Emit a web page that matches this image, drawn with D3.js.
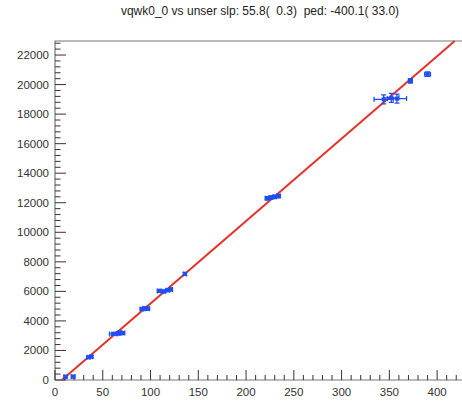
<!DOCTYPE html>
<html>
<head>
<meta charset="utf-8">
<script src="https://cdn.jsdelivr.net/npm/d3@7"></script>
<style>
  body { margin: 0; background: #fff; }
  text { font-family: "Liberation Sans", Arial, sans-serif; }
</style>
</head>
<body>
<svg id="chart" width="462" height="401"></svg>
<script>
// measured points (unser vs vqwk0_0)
const xVals = [11, 19, 35, 38, 61, 66, 68, 71, 91, 94, 97, 109, 114, 118, 121, 136, 222, 226, 230, 234, 344, 352, 358, 372, 390];
const yVals = [220, 230, 1540, 1580, 3120, 3150, 3200, 3180, 4800, 4850, 4830, 6030, 6000, 6080, 6130, 7180, 12300, 12350, 12400, 12450, 19000, 19100, 19050, 20250, 20700];
const xErrs = [1.5, 2, 1.5, 1.5, 4, 2, 2, 2, 2, 2, 2, 2, 2, 2, 2, 1.5, 2, 2, 2, 2, 10, 8, 10, 2, 3];
const yErrs = [80, 80, 80, 80, 100, 100, 100, 100, 100, 100, 100, 100, 100, 100, 100, 100, 120, 120, 120, 120, 300, 300, 300, 150, 150];
const slope = 55.8, ped = -400.1;
const titleText = "vqwk0_0 vs unser slp: 55.8(  0.3)  ped: -400.1( 33.0)";
const xTicks = [0, 50, 100, 150, 200, 250, 300, 350, 400];
const yTicks = [0, 2000, 4000, 6000, 8000, 10000, 12000, 14000, 16000, 18000, 20000, 22000];

const svg = d3.select("#chart");
const x = d3.scaleLinear().domain([0, 425]).range([55, 461]);
const y = d3.scaleLinear().domain([0, 22950]).range([380, 41]);

// title (keep the double spaces)
svg.append("text")
  .attr("x", 260).attr("y", 15)
  .attr("text-anchor", "middle")
  .attr("font-size", 12)
  .attr("fill", "#222")
  .style("white-space", "pre")
  .text(titleText);

// frame lines
svg.append("path")
  .attr("d", `M${x(0)},${y(0)}V${y.range()[1]}H462`)
  .attr("fill", "none")
  .attr("stroke", "#777")
  .attr("stroke-width", 1.2);
svg.append("line")
  .attr("x1", x(0)).attr("x2", 462)
  .attr("y1", y(0)).attr("y2", y(0))
  .attr("stroke", "#777").attr("stroke-width", 1.2);

// y ticks (inward)
const yMinor = d3.range(0, 22950, 400);
svg.append("g").selectAll("line")
  .data(yMinor)
  .join("line")
  .attr("x1", x(0)).attr("x2", (d) => x(0) + (d % 2000 === 0 ? 11 : 5.5))
  .attr("y1", (d) => y(d)).attr("y2", (d) => y(d))
  .attr("stroke", "#333").attr("stroke-width", 1);
svg.append("g").selectAll("text")
  .data(yTicks)
  .join("text")
  .attr("x", 49).attr("y", (d) => y(d) + 4)
  .attr("text-anchor", "end")
  .attr("font-size", 11.5)
  .attr("fill", "#333")
  .text((d) => d);

// x ticks (inward)
const xMinor = d3.range(0, 426, 10);
svg.append("g").selectAll("line")
  .data(xMinor)
  .join("line")
  .attr("x1", (d) => x(d)).attr("x2", (d) => x(d))
  .attr("y1", y(0)).attr("y2", (d) => y(0) - (d % 50 === 0 ? 10 : 5))
  .attr("stroke", "#333").attr("stroke-width", 1);
svg.append("g").selectAll("text")
  .data(xTicks)
  .join("text")
  .attr("x", (d) => x(d)).attr("y", 396)
  .attr("text-anchor", "middle")
  .attr("font-size", 11.5)
  .attr("fill", "#333")
  .text((d) => d);

// fit line
const x0 = -ped / slope;
const x1 = (22950 - ped) / slope;
svg.append("line")
  .attr("x1", x(x0)).attr("y1", y(0))
  .attr("x2", x(x1)).attr("y2", y(22950))
  .attr("stroke", "#e8302a")
  .attr("stroke-width", 2);

// points with error bars
const pts = xVals.map((v, i) => ({ x: v, y: yVals[i], ex: xErrs[i], ey: yErrs[i] }));
const blue = "#1f4ef5";
const g = svg.append("g").attr("stroke", blue).attr("stroke-width", 1.3).attr("fill", "none");
pts.forEach((p) => {
  const cx = x(p.x), cy = y(p.y);
  const xl = x(p.x - p.ex), xr = x(p.x + p.ex);
  const yt = y(p.y + p.ey), yb = y(p.y - p.ey);
  g.append("path")
    .attr("d", `M${xl},${cy}H${xr}M${cx},${yt}V${yb}` +
      `M${xl},${cy - 2.5}V${cy + 2.5}M${xr},${cy - 2.5}V${cy + 2.5}` +
      `M${cx - 2.5},${yt}H${cx + 2.5}M${cx - 2.5},${yb}H${cx + 2.5}`);
  g.append("rect")
    .attr("x", cx - 2).attr("y", cy - 2)
    .attr("width", 4).attr("height", 4)
    .attr("fill", blue).attr("stroke", "none");
});
</script>
</body>
</html>
